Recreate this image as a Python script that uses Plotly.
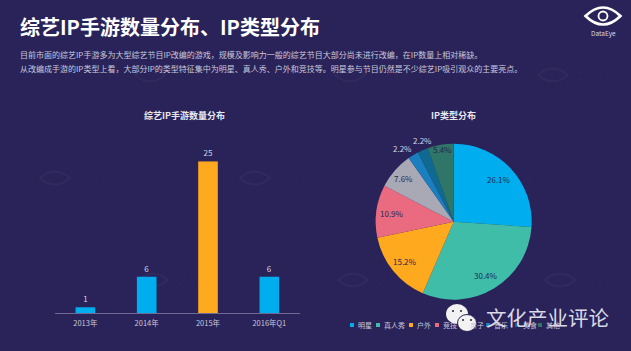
import math
import plotly.graph_objects as go

W, H = 631, 351
years = ["2013年", "2014年", "2015年", "2016年Q1"]
counts = [1, 6, 25, 6]
bar_colors = ["#00AEEF", "#00AEEF", "#FFA91F", "#00AEEF"]
types = ["明星", "真人秀", "户外", "竞技", "亲子", "音乐", "美食", "其他"]
shares = [26.1, 30.4, 15.2, 10.9, 7.6, 2.2, 2.2, 5.4]
pie_colors = ["#00AEEF", "#3FBDA9", "#FFA91F", "#EA6A80", "#A9A9B6", "#1B7EBF", "#0F6A92", "#2F7568"]
title = "综艺IP手游数量分布、IP类型分布"
line1 = "目前市面的综艺IP手游多为大型综艺节目IP改编的游戏，规模及影响力一般的综艺节目大部分尚未进行改编，在IP数量上相对稀缺。"
line2 = "从改编成手游的IP类型上看，大部分IP的类型特征集中为明星、真人秀、户外和竞技等。明星参与节目仍然是不少综艺IP吸引观众的主要亮点。"
wm_centres = [(150, 75), (350, 75), (553, 75), (55, 178), (255, 178), (470, 178),
              (153, 280), (353, 280), (560, 280)]
legend_x = [352, 378, 411, 437, 464, 488, 517, 540]
label_radii = [0.8, 0.8, 0.8, 0.8, 0.82, 1.14, 1.12, 0.88]
label_shift = [(0, 0), (0, 0), (0, 0), (0, 0), (-2, -1), (-5, 3), (3, -1), (0, -5)]

BG = "#2A2359"
FONT = "Noto Sans CJK SC, Noto Sans, sans-serif"
PIE_CX, PIE_CY, PIE_R = 453.7, 221.7, 78
px = lambda v: v / W
py = lambda v: 1 - v / H

def P(x, y):
    return f"{px(x):.5f},{py(y):.5f}"

def eye(cx, cy, w, h, **kw):
    d = (f"M{P(cx-w/2, cy)} Q{P(cx, cy-h)} {P(cx+w/2, cy)} Q{P(cx, cy+h)} {P(cx-w/2, cy)} Z")
    return dict(type="path", xref="paper", yref="paper", path=d, layer="below", **kw)

def circle(cx, cy, rx, ry, **kw):
    return dict(type="circle", xref="paper", yref="paper", x0=px(cx-rx), x1=px(cx+rx),
                y0=py(cy+ry), y1=py(cy-ry), **kw)

def txt(x, y, s, size, color="#FFFFFF", anchor="left", bold=False):
    return dict(xref="paper", yref="paper", x=px(x), y=py(y), text=f"<b>{s}</b>" if bold else s,
                showarrow=False, xanchor=anchor, yanchor="middle",
                font=dict(size=size, color=color, family=FONT))

fig = go.Figure()
fig.add_trace(go.Bar(x=years, y=counts, marker_color=bar_colors, marker_line_width=0, width=0.32,
                     text=counts, textposition="outside", cliponaxis=False,
                     textfont=dict(size=8, color="#D5D3E5", family=FONT), showlegend=False))
fig.add_trace(go.Pie(labels=types, values=shares, sort=False, direction="clockwise", rotation=0,
                     marker=dict(colors=pie_colors, line_width=0), textinfo="none", showlegend=False,
                     automargin=False,
                     domain=dict(x=[px(PIE_CX-PIE_R), px(PIE_CX+PIE_R)], y=[py(PIE_CY+PIE_R), py(PIE_CY-PIE_R)])))

shapes = []
for cx, cy in wm_centres:
    shapes.append(eye(cx, cy, 30, 13, line=dict(color="rgba(255,255,255,0.035)", width=2),
                      fillcolor="rgba(0,0,0,0)"))
shapes.append(eye(603, 16, 35, 17, line=dict(color="white", width=2.6), fillcolor="rgba(0,0,0,0)"))
shapes.append(circle(603, 16, 4.5, 4.5, line=dict(color="white", width=1.8), fillcolor="rgba(0,0,0,0)"))

annotations = [
    txt(18, 26, title, 20, bold=True),
    txt(18, 54, line1, 8, "#C9C8DC"),
    txt(18, 68, line2, 8, "#C9C8DC"),
    txt(184, 115, "综艺IP手游数量分布", 9, "#E8E8F0", "center", bold=True),
    txt(453, 115, "IP类型分布", 9, "#E8E8F0", "center", bold=True),
    txt(603, 33, "DataEye", 6.5, "#D8D8E8", "center"),
]
for cx, cy in wm_centres:
    annotations.append(txt(cx + 22, cy, "DataEye", 10, "rgba(255,255,255,0.03)"))

cum = 0
for v, rf, (sx, sy) in zip(shares, label_radii, label_shift):
    a = math.radians((cum + v / 2) / sum(shares) * 360)
    cum += v
    x = PIE_CX + PIE_R * rf * math.sin(a) + sx
    y = PIE_CY - PIE_R * rf * math.cos(a) + sy
    annotations.append(txt(x, y, f"{v:.1f}%", 8, "#D5D3E5" if rf > 1 else "#1E2A50", "center"))

for name, c, x in zip(types, pie_colors, legend_x):
    shapes.append(dict(type="rect", xref="paper", yref="paper", x0=px(x-2), x1=px(x+2),
                       y0=py(327), y1=py(323), fillcolor=c, line_width=0))
    annotations.append(txt(x + 3.5, 325, name, 7, "#C9C8DC"))

shapes.append(circle(457, 314, 11, 10, fillcolor="#F2F2F2", line_width=0))
shapes.append(circle(467, 323, 9.5, 8.5, fillcolor="#F2F2F2", line=dict(color=BG, width=1)))
for cx, cy in [(453, 311), (461, 311), (463, 320), (471, 320)]:
    shapes.append(circle(cx, cy, 1.1, 1.1, fillcolor="#333", line_width=0))
annotations.append(txt(484, 317, "文化产业评论", 20.5, "#DADAE6"))

fig.update_layout(
    width=W, height=H, autosize=False, paper_bgcolor=BG, plot_bgcolor=BG,
    margin=dict(l=0, r=0, t=0, b=0), font=dict(family=FONT), showlegend=False,
    xaxis=dict(domain=[px(54.7), px(300)], type="category", showgrid=False, ticks="", showline=True,
               linecolor="#6F6A94", linewidth=1.2, tickfont=dict(size=7.5, color="#C9C8DC", family=FONT),
               ticklabelstandoff=3, anchor="y"),
    yaxis=dict(domain=[py(313.3), py(161.3)], range=[0, 25], visible=False),
    shapes=shapes, annotations=annotations,
)
fig.write_html("out.html", config=dict(displayModeBar=False), post_script="document.body.style.margin='0';")
